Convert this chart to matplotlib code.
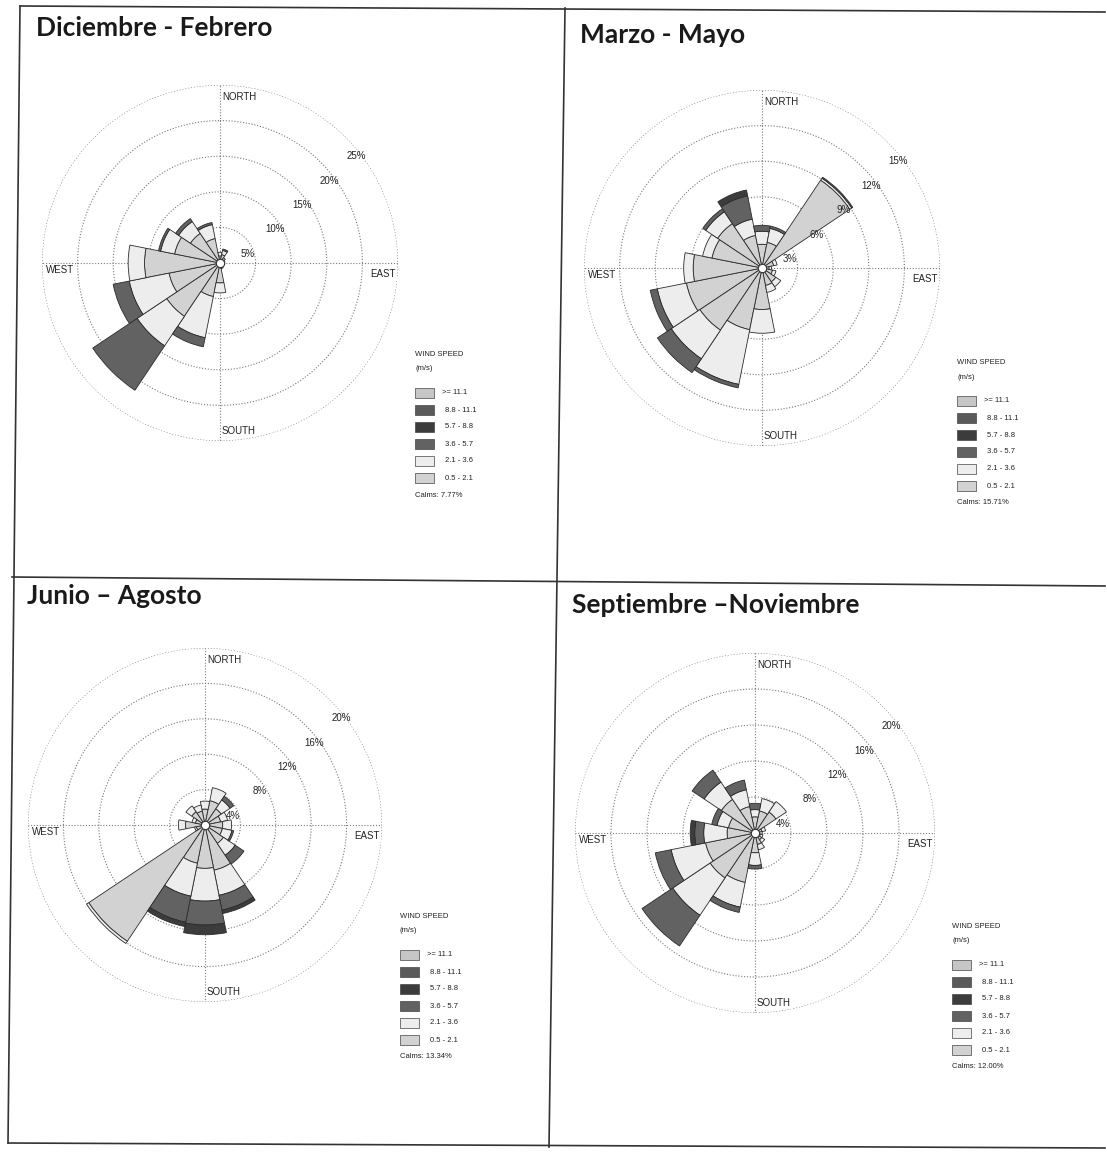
import numpy as np
import matplotlib
matplotlib.use('Agg')
import matplotlib.pyplot as plt
from matplotlib.lines import Line2D
from matplotlib.patches import Rectangle

W, H = 1107, 1153

# Data
directions = ['N', 'NNE', 'NE', 'ENE', 'E', 'ESE', 'SE', 'SSE',
              'S', 'SSW', 'SW', 'WSW', 'W', 'WNW', 'NW', 'NNW']
speed_bins = ['0.5 - 2.1', '2.1 - 3.6', '3.6 - 5.7', '5.7 - 8.8', '8.8 - 11.1', '>= 11.1']
bin_colors = ['#d2d2d2', '#ededed', '#626262', '#3c3c3c', '#5a5a5a', '#c6c6c6']
seasons = ['Diciembre - Febrero', 'Marzo - Mayo', 'Junio – Agosto', 'Septiembre –Noviembre']
calms = [7.77, 15.71, 13.34, 12.00]
ring_step = [5, 3, 4, 4]
ring_max = [25, 15, 20, 20]

# % frequency per direction, columns = speed bins (0.5-2.1 ... >=11.1)
dic_feb = [[1.0, 0.5], [1.2, 0.6, 0.2], [0.6, 0.3], [0.5, 0.2],
           [0.4, 0.1], [0.4, 0.1], [0.4, 0.2], [0.5, 0.3],
           [2.8, 1.4], [4.8, 5.9, 1.3], [9.0, 5.0, 7.5], [7.3, 5.7, 2.3],
           [10.6, 2.3], [6.5, 2.0, 0.3], [5.0, 2.0, 0.5], [3.5, 2.0, 0.3]]
mar_may = [[2.0, 1.1, 0.5], [2.2, 1.2, 0.2], [8.9, 0.2, 0.1], [1.0, 0.3],
           [0.6, 0.2], [0.9, 0.3], [1.4, 0.5], [1.5, 0.6],
           [3.5, 2.0], [5.3, 4.7, 0.3], [6.3, 2.9, 1.4], [6.5, 2.5, 0.6],
           [5.8, 0.8], [4.3, 0.8], [4.5, 1.2, 0.3], [2.8, 1.4, 2.0, 0.5]]
jun_ago = [[1.8, 0.9], [2.8, 1.5], [2.2, 1.2, 0.5], [1.8, 0.8],
           [2.0, 1.0], [2.0, 1.1, 0.2], [2.5, 1.6, 1.2], [5.2, 2.9, 1.7, 0.4],
           [4.9, 3.7, 2.7, 1.1], [4.4, 3.8, 3.0, 0.5], [15.8, 0.3], [1.0, 0.2],
           [2.2, 0.8], [1.1, 0.4], [1.8, 0.8], [1.6, 0.7]]
sep_nov = [[1.8, 0.8, 0.7], [2.5, 1.4], [2.8, 1.4], [0.8, 0.4],
           [0.5, 0.3], [0.6, 0.3], [0.9, 0.4], [1.3, 0.6],
           [2.2, 1.4, 0.4], [5.6, 2.8, 0.6], [6.0, 5.0, 4.1], [5.6, 3.9, 1.8],
           [3.1, 2.6, 1.0, 0.5], [3.0, 1.3, 0.6], [4.5, 2.3, 1.6], [3.0, 1.9, 1.1]]
tables = [dic_feb, mar_may, jun_ago, sep_nov]

# Layout (pixels)
centers = [(220, 263), (762, 268), (205, 825), (755, 833)]
radii = [178, 178, 177, 180]
title_pos = [(36, 28), (580, 35), (27, 596), (572, 605)]
legend_pos = [(415, 355), (957, 363), (400, 917), (952, 927)]

small_font = 'Liberation Sans'


def fx(x):
    return x / W


def fy(y):
    return 1 - y / H


fig = plt.figure(figsize=(W / 100, H / 100), dpi=100)
fig.patch.set_facecolor('white')

# Panel frame lines
frame = [((20, 6), (1105, 12)), ((8, 1143), (1105, 1148)),
         ((20, 6), (8, 1143)), ((565, 8), (549, 1147)),
         ((12, 577), (1105, 586))]
for (x0, y0), (x1, y1) in frame:
    fig.add_artist(Line2D([fx(x0), fx(x1)], [fy(y0), fy(y1)], color='#333333', lw=1.2))


def draw_rose(ax, table, step, rmax):
    ax.set_theta_zero_location('N')
    ax.set_theta_direction(-1)
    ax.set_ylim(0, rmax)
    ax.set_axis_off()
    t = np.linspace(0, 2 * np.pi, 361)
    for r in range(step, rmax + 1, step):
        ax.plot(t, np.full_like(t, r), ls=(0, (1, 1.6)), color='#7a7a7a', lw=0.8, zorder=1)
    for a in [0, 90, 180, 270]:
        ax.plot([np.deg2rad(a)] * 2, [0, rmax], ls=(0, (1, 1.6)), color='#7a7a7a', lw=0.8, zorder=1)
    theta = np.deg2rad(np.arange(len(directions)) * 22.5)
    data = np.array([row + [0] * (len(speed_bins) - len(row)) for row in table])
    bottom = np.zeros(len(directions))
    for k in range(len(speed_bins)):
        vals = data[:, k]
        m = vals > 0
        if m.any():
            ax.bar(theta[m], vals[m], width=np.deg2rad(22.5), bottom=bottom[m],
                   color=bin_colors[k], edgecolor='#2b2b2b', linewidth=0.6, zorder=3)
        bottom += vals
    ax.plot(0, 0, 'o', ms=6, mfc='white', mec='#333333', mew=0.8, zorder=5)


for i in range(4):
    cx, cy = centers[i]
    R = radii[i]
    ax = fig.add_axes([fx(cx - R), fy(cy + R), 2 * R / W, 2 * R / H], projection='polar')
    draw_rose(ax, tables[i], ring_step[i], ring_max[i])

    lab = dict(fontsize=7, family=small_font, color='#222222', zorder=6,
               bbox=dict(fc='white', ec='none', pad=0.6))
    fig.text(fx(cx + 2), fy(cy - R + 12), 'NORTH', ha='left', va='center', **lab)
    fig.text(fx(cx + 2), fy(cy + R - 10), 'SOUTH', ha='left', va='center', **lab)
    fig.text(fx(cx - R + 4), fy(cy + 7), 'WEST', ha='left', va='center', **lab)
    fig.text(fx(cx + R - 2), fy(cy + 11), 'EAST', ha='right', va='center', **lab)

    rings = list(range(ring_step[i], ring_max[i] + 1, ring_step[i]))
    for j, r in enumerate(rings):
        fig.text(fx(cx + 28 + 27 * j), fy(cy - 9 - 24.5 * j), f'{r}%', ha='center', va='center',
                 fontsize=7, family=small_font, color='#222222', zorder=6)

    # titles
    tx, ty = title_pos[i]
    fig.text(fx(tx), fy(ty), seasons[i], ha='left', va='center', fontsize=19,
             family='Lato', fontweight='bold', color='#1a1a1a')

    # legend
    lx, ly = legend_pos[i]
    fig.text(fx(lx), fy(ly), 'WIND SPEED', ha='left', va='center', fontsize=5.5,
             family=small_font, color='#222222')
    fig.text(fx(lx), fy(ly + 14), '(m/s)', ha='left', va='center', fontsize=5.5,
             family=small_font, color='#222222')
    for j, k in enumerate(range(len(speed_bins) - 1, -1, -1)):
        yy = ly + 38 + 17 * j
        fig.add_artist(Rectangle((fx(lx), fy(yy + 5)), 19 / W, 10 / H, transform=fig.transFigure,
                                 facecolor=bin_colors[k], edgecolor='#444444', lw=0.5))
        fig.text(fx(lx + 30 if k < 5 else lx + 27), fy(yy), speed_bins[k], ha='left', va='center',
                 fontsize=5.5, family=small_font, color='#222222')
    fig.text(fx(lx), fy(ly + 140), f'Calms: {calms[i]:.2f}%', ha='left', va='center',
             fontsize=5.5, family=small_font, color='#222222')

fig.savefig('out.png', dpi=100)
